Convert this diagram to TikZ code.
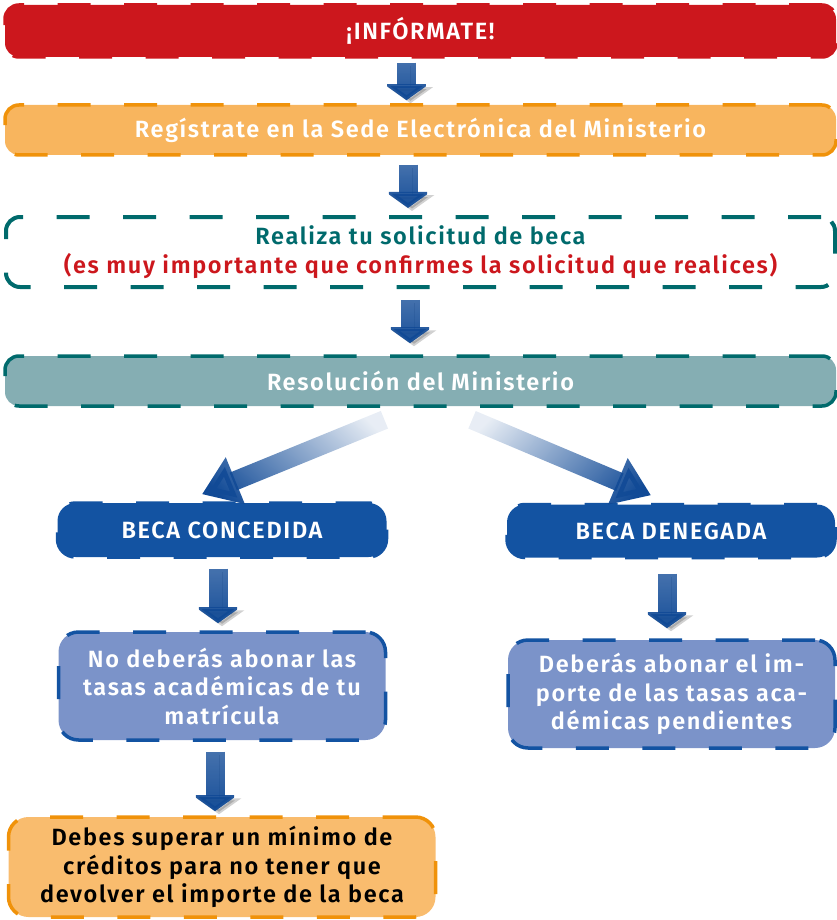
\documentclass[tikz,border=0pt]{standalone}
\usepackage{fontspec}
\setmainfont{Fira Sans}[UprightFont=* SemiBold, LetterSpace=7]
\usetikzlibrary{arrows.meta,fadings}
\definecolor{redc}{HTML}{CC171D}
\definecolor{orfill}{HTML}{F8B55E}
\definecolor{ordraw}{HTML}{F0920A}
\definecolor{tealdraw}{HTML}{006A6C}
\definecolor{tealfill}{HTML}{85AEB3}
\definecolor{darkblue}{HTML}{1353A2}
\definecolor{lightblue}{HTML}{7B93C9}
\definecolor{arrblue}{HTML}{114A96}
\tikzfading[name=arrfade, top color=transparent!25, bottom color=transparent!0]
\tikzfading[name=diagfade, top color=transparent!90, middle color=transparent!5, bottom color=transparent!0]
\tikzset{
  box/.style={draw, line width=3.5pt, dash pattern=on 33pt off 33.5pt, rounded corners=14pt,
    font=\fontsize{23.5}{28.5}\selectfont, align=center, inner sep=0pt, text=white},
  arrshadow/.style={preaction={draw=black, opacity=0.18, transform canvas={shift={(4pt,-3pt)}}}},
  bigarr/.style={arrshadow, draw=arrblue, line width=19pt, -{Triangle[width=44pt,length=16pt]},
    path fading=arrfade},
  diagarr/.style={draw=arrblue, line width=19pt, -{Triangle[width=48pt,length=36pt]},
    path fading=diagfade},
}
\begin{document}
\begin{tikzpicture}[x=1pt,y=-1pt]
\useasboundingbox (0,0) rectangle (836,920);
\node[box, fill=redc, draw=redc, minimum width=831pt, minimum height=52pt] (n1) at (420.5,31) {¡INFÓRMATE!};
\node[box, fill=orfill, draw=ordraw, minimum width=831pt, minimum height=50pt] (n2) at (420.5,130) {Regístrate en la Sede Electrónica del Ministerio};
\node[box, draw=tealdraw, minimum width=829pt, minimum height=70pt, line width=4pt] (n3) at (420.5,252)
  {\textcolor{tealdraw}{Realiza tu solicitud de beca}\\\textcolor{redc}{(es muy importante que confirmes la solicitud que realices)}};
\node[box, fill=tealfill, draw=tealdraw, minimum width=831pt, minimum height=50pt] (n4) at (420.5,381) {Resolución del Ministerio};
\node[box, fill=darkblue, draw=darkblue, minimum width=329pt, minimum height=54pt, rounded corners=18pt] (b1) at (222,530) {BECA CONCEDIDA};
\node[box, fill=darkblue, draw=darkblue, minimum width=328pt, minimum height=53pt, rounded corners=18pt] (b2) at (671,531) {BECA DENEGADA};
\node[box, fill=lightblue, draw=darkblue, minimum width=327pt, minimum height=108pt, rounded corners=20pt] (l1) at (222,686)
  {No deberás abonar las\\tasas académicas de tu\\matrícula};
\node[box, fill=lightblue, draw=darkblue, minimum width=327pt, minimum height=108pt, rounded corners=20pt] (r1) at (671.5,694)
  {Deberás abonar el im-\\porte de las tasas aca-\\démicas pendientes};
\node[box, fill=orfill!90!white, draw=ordraw, minimum width=427pt, minimum height=100pt, rounded corners=20pt, text=black] (f) at (222,867)
  {Debes superar un mínimo de\\créditos para no tener que\\devolver el importe de la beca};
\draw[bigarr] ([shift={(-14,4)}]n1.south) -- ([shift={(-14,-3)}]n2.north);
\draw[bigarr] ([shift={(-12.5,8)}]n2.south) -- ([shift={(-12.5,-7)}]n3.north);
\draw[bigarr] ([shift={(-10.5,11)}]n3.south) -- ([shift={(-10.5,-11)}]n4.north);
\draw[diagarr, fading angle=-64.7] ([shift={(-36,12)}]n4.south) -- ([shift={(-20,-7)}]b1.north);
\draw[diagarr, fading angle=64.9] ([shift={(51.5,12)}]n4.south) -- ([shift={(-20,-7.5)}]b2.north);
\draw[bigarr] ([shift={(-4,10)}]b1.south) -- ([shift={(-4,-7)}]l1.north);
\draw[bigarr] ([shift={(-4,14.5)}]b2.south) -- ([shift={(-4.5,-10)}]r1.north);
\draw[bigarr] ([shift={(-7,10)}]l1.south) -- ([shift={(-7,-4)}]f.north);
\end{tikzpicture}
\end{document}
